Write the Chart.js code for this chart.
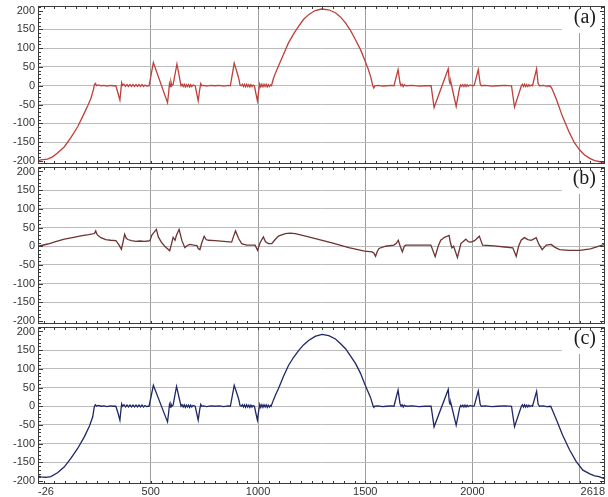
<!DOCTYPE html>
<html>
<head>
<meta charset="utf-8">
<script src="https://cdn.jsdelivr.net/npm/chart.js@4.4.1/dist/chart.umd.min.js"></script>
<style>
  body { margin: 0; background: #fff; }
  #wrap { position: relative; width: 608px; height: 497px; }
  canvas { position: absolute; left: 0; }
</style>
</head>
<body>
<div id="wrap">
  <canvas id="panelA" width="608" height="166" style="top:0"></canvas>
  <canvas id="panelB" width="608" height="160" style="top:166px"></canvas>
  <canvas id="panelC" width="608" height="171" style="top:326px"></canvas>
</div>
<script>
// axis ticks
const xTicks = [-26, 500, 1000, 1500, 2000, 2500, 2618];
const yTicks = [-200, -150, -100, -50, 0, 50, 100, 150, 200];
const panelLabels = ['(a)', '(b)', '(c)'];

// series (a)
const xA = [-26, -13, 18, 42, 65, 97, 128, 159, 182, 206, 221, 232, 237, 242, 247, 256, 268, 282, 296, 310, 324, 337,
  347, 356, 360, 364, 368, 375, 382, 389, 396, 403, 410, 417, 424, 431, 438, 445, 452, 459, 466, 473, 480, 487, 492,
  512, 578, 583, 587, 590, 594, 598, 604, 622, 641, 646, 651, 656, 661, 666, 671, 676, 681, 686, 691, 697, 707,
  721, 728, 733, 738, 746, 760, 780, 800, 820, 840, 860, 871,
  889, 905, 912, 916, 922, 927, 932, 937, 942, 947, 952, 957, 962, 967, 972, 977, 983,
  997, 1004, 1008, 1013, 1018, 1023, 1028, 1033, 1038, 1043, 1048, 1053, 1058, 1063,
  1072, 1083, 1095, 1119, 1142, 1166, 1189, 1212, 1236, 1266, 1297, 1329, 1361, 1384, 1408, 1431, 1454, 1478, 1497, 1512, 1525, 1535,
  1540, 1545, 1560, 1580, 1600, 1620, 1634,
  1653, 1662, 1667, 1672, 1677, 1682, 1690, 1720, 1750, 1780, 1807,
  1821, 1887, 1892, 1896, 1899, 1902, 1924, 1940, 1945, 1950, 1955, 1960, 1965, 1970, 1975, 1980, 1990, 2000, 2008,
  2027, 2036, 2041, 2060, 2090, 2120, 2150, 2182,
  2196, 2228, 2233, 2238, 2243, 2248, 2253, 2258, 2263, 2268, 2274, 2280,
  2299, 2306, 2313, 2330, 2345, 2360,
  2367, 2374, 2392, 2420, 2453, 2476, 2500, 2523, 2547, 2570, 2594, 2618];
const yA = [-200, -197, -195, -189, -179, -162, -137, -109, -82, -53, -33, -11, 3, 6, 0, 2, 0, 1, -1, 1, 0, 0,
  -20, -38, -15, 8, 1, 4, -2, 3, -2, 3, -2, 3, -2, 3, -2, 3, -2, 3, -2, 2, -1, 0, 0,
  62, -45, -20, 5, -2, 10, 0, 3, 58, 0, 4, -2, 4, -3, 3, -2, 3, -3, 3, -2, 2, 0,
  -40, -10, 6, 0, 1, -1, 1, 0, 1, -1, 1, 0,
  60, 30, 15, 2, 0, 4, -2, 4, -3, 4, -2, 3, -3, 3, -2, 2, 0,
  -40, -10, 5, -3, 4, -3, 4, -2, 4, -3, 3, -2, 2, 0,
  20, 36, 52, 84, 114, 138, 158, 176, 189, 200, 204, 202, 194, 183, 167, 147, 123, 96, 69, 47, 25, 0,
  -6, 0, 1, -1, 0, 1, 0,
  43, 8, 0, 4, -2, 3, 0, 1, -1, 0, 0,
  -58, 45, 12, 5, 10, 2, -55, -5, 2, -1, 3, -2, 3, -2, 3, -1, 2, 0, 1,
  43, 5, 0, 1, -1, 0, 1, 0,
  -57, 0, 4, -2, 4, -2, 3, -2, 3, -1, 2, 0,
  45, 6, 0, 1, -1, 0,
  -4, -12, -37, -82, -126, -152, -171, -184, -193, -199, -202, -204];

// series (b)
const xB = [-26, 20, 60, 97, 140, 174, 210, 237, 243, 250, 267, 290, 313, 337, 350, 363, 370, 378, 385, 393, 410, 430, 450, 470, 487,
  496, 505, 526, 535, 549, 565, 588, 596, 604, 613, 620, 632, 645, 659, 670, 682, 700, 715,
  721, 729, 738, 749, 758, 768, 800, 840, 877, 885, 895, 910, 924, 947, 970, 986,
  998, 1010, 1025, 1035, 1049, 1064, 1080, 1095, 1127, 1150, 1174, 1236, 1290, 1345, 1423, 1497, 1532,
  1540, 1548, 1556, 1564, 1595, 1634, 1645, 1654, 1663, 1673, 1682, 1689, 1750, 1806,
  1826, 1840, 1852, 1870, 1891, 1897, 1904, 1912, 1918, 1930, 1946, 1969, 1980, 1993, 2010, 2032, 2047, 2100, 2150, 2188,
  2204, 2215, 2227, 2242, 2258, 2274, 2297, 2310, 2325, 2344, 2367, 2385, 2406, 2450, 2500, 2550, 2594, 2618];
const yB = [0, 6, 13, 19, 24, 28, 31, 34, 41, 31, 23, 18, 16, 15, 5, -8, 10, 32, 22, 18, 15, 13, 14, 13, 14,
  15, 30, 45, 25, 11, 0, -12, 5, 24, 16, 30, 45, 15, -4, 2, 5, 3, 2,
  -6, -9, 10, 27, 18, 16, 15, 13, 11, 25, 41, 20, 7, 3, 3, 3,
  -11, 10, 25, 12, 7, 7, 18, 27, 34, 35, 34, 25, 17, 9, -4, -13, -15,
  -18, -27, -14, -6, 0, 3, 8, 16, 0, -15, 0, 3, 3, 3,
  -28, 0, 16, 24, 29, 10, -4, 0, -10, -30, 7, 19, 12, 11, 15, 27, 3, 1, -2, -4,
  -27, 0, 16, 23, 18, 16, 23, 5, -9, 3, 5, -3, -9, -11, -11, -7, 1, 5];

// series (c)
const xC = [-26, -13, 10, 34, 65, 97, 128, 159, 190, 214, 229, 237, 242, 247, 256, 268, 282, 296, 310, 324, 337,
  347, 356, 360, 364, 368, 375, 382, 389, 396, 403, 410, 417, 424, 431, 438, 445, 452, 459, 466, 473, 480, 487, 492,
  512, 578, 583, 587, 590, 594, 598, 604, 620, 641, 646, 651, 656, 661, 666, 671, 676, 681, 686, 691, 697, 707,
  721, 728, 733, 738, 746, 760, 780, 800, 820, 840, 860, 871,
  889, 905, 912, 916, 922, 927, 932, 937, 942, 947, 952, 957, 962, 967, 972, 977, 983,
  997, 1004, 1008, 1013, 1018, 1023, 1028, 1033, 1038, 1043, 1048, 1053, 1058, 1061,
  1072, 1083, 1095, 1119, 1142, 1166, 1189, 1212, 1236, 1266, 1298, 1330, 1361, 1384, 1408, 1431, 1455, 1478, 1497, 1512, 1525, 1537,
  1540, 1545, 1560, 1580, 1600, 1620, 1634,
  1653, 1662, 1667, 1672, 1677, 1682, 1690, 1720, 1750, 1780, 1807,
  1821, 1887, 1892, 1896, 1899, 1902, 1924, 1940, 1945, 1950, 1955, 1960, 1965, 1970, 1975, 1980, 1990, 2000, 2008,
  2027, 2036, 2041, 2060, 2090, 2120, 2150, 2182,
  2196, 2228, 2233, 2238, 2243, 2248, 2253, 2258, 2263, 2268, 2274, 2280,
  2299, 2306, 2313, 2330, 2345, 2365,
  2374, 2392, 2420, 2453, 2484, 2515, 2547, 2570, 2590, 2608, 2618];
const yC = [-186, -189, -190, -188, -178, -162, -139, -113, -82, -53, -29, 0, 4, 0, 2, 0, 1, -1, 1, 0, 0,
  -18, -37, -14, 6, 0, 4, -2, 3, -2, 3, -2, 3, -2, 3, -2, 3, -2, 3, -2, 2, -1, 0, 0,
  56, -42, -18, 4, -2, 6, 0, 3, 53, 0, 4, -2, 4, -3, 3, -2, 3, -3, 3, -2, 2, 0,
  -37, -9, 5, 0, 1, -1, 1, 0, 1, -1, 1, 0,
  56, 28, 14, 2, 0, 4, -2, 4, -3, 4, -2, 3, -3, 3, -2, 2, 0,
  -37, -9, 5, -3, 4, -3, 4, -2, 4, -3, 3, -2, 2, 0,
  17, 32, 47, 80, 109, 131, 149, 164, 176, 187, 192, 189, 180, 168, 154, 135, 114, 88, 60, 40, 23, 0,
  -2, 0, 1, -1, 0, 1, 0,
  43, 7, 0, 4, -2, 3, 0, 1, -1, 0, 0,
  -55, 45, 11, 5, 9, 2, -51, -5, 2, -1, 3, -2, 3, -2, 3, -1, 2, 0, 1,
  41, 5, 0, 1, -1, 0, 1, 0,
  -55, 0, 4, -2, 4, -2, 3, -2, 3, -1, 2, 0,
  40, 6, 0, 1, -1, 0,
  -12, -37, -77, -117, -148, -171, -181, -186, -188, -192, -195];

const tickFont = { family: '"Liberation Sans", Arial, sans-serif', size: 11 };

/**
 * Frame with ruler ticks and the panel label
 */
const panelFrame = {
    id: 'panelFrame',
    beforeDatasetsDraw(chart, args, opts) {
        const { ctx, chartArea: a } = chart;
        ctx.save();
        ctx.fillStyle = '#fff';
        ctx.fillRect(a.right - 43, a.top + 1, 42, 26);
        ctx.font = '20px "Liberation Serif", "Times New Roman", serif';
        ctx.fillStyle = '#1a1a1a';
        ctx.textAlign = 'right';
        ctx.textBaseline = 'middle';
        ctx.fillText(opts.label, a.right - 9, a.top + 12);
        ctx.restore();
    },
    afterDraw(chart) {
        const { ctx, chartArea: a, scales: { x, y } } = chart;
        ctx.save();
        ctx.strokeStyle = '#3a3a3a';
        ctx.lineWidth = 1;
        ctx.strokeRect(a.left + 0.5, a.top + 0.5, a.right - a.left - 1, a.bottom - a.top - 1);
        ctx.beginPath();
        for (let v = 0; v <= 2600; v += 50) {
            const px = Math.round(x.getPixelForValue(v)) + 0.5;
            ctx.moveTo(px, a.top);
            ctx.lineTo(px, a.top + 3);
            ctx.moveTo(px, a.bottom);
            ctx.lineTo(px, a.bottom - 3);
        }
        for (let v = -200; v <= 210; v += 10) {
            const py = Math.round(y.getPixelForValue(v)) + 0.5;
            const len = v % 50 === 0 ? 5 : 3;
            ctx.moveTo(a.left, py);
            ctx.lineTo(a.left + len, py);
            ctx.moveTo(a.right, py);
            ctx.lineTo(a.right - len, py);
        }
        ctx.stroke();
        ctx.restore();
    }
};

function createPanel(canvasId, xs, ys, color, label, padding, showXLabels) {
    const canvas = document.getElementById(canvasId);
    if (!canvas) return;
    const ctx = canvas.getContext('2d');

    return new Chart(ctx, {
        type: 'line',
        data: {
            datasets: [{
                data: xs.map((x, i) => ({ x: x, y: ys[i] })),
                borderColor: color,
                borderWidth: 1.3,
                pointRadius: 0,
                tension: 0
            }]
        },
        options: {
            responsive: false,
            animation: false,
            events: [],
            layout: { padding: padding },
            plugins: {
                legend: { display: false },
                tooltip: { enabled: false },
                panelFrame: { label: label }
            },
            scales: {
                x: {
                    type: 'linear',
                    min: -26,
                    max: 2618,
                    afterBuildTicks: s => { s.ticks = xTicks.map(v => ({ value: v })); },
                    afterFit: s => {
                        s.height = showXLabels ? 13 : 0;
                        s.paddingLeft = 0;
                        s.paddingRight = 0;
                    },
                    border: { display: false },
                    grid: {
                        drawTicks: false,
                        color: c => (c.tick && (c.tick.value === -26 || c.tick.value === 2618)) ? 'rgba(0,0,0,0)' : '#9c9c9c',
                        lineWidth: 1
                    },
                    ticks: {
                        display: showXLabels,
                        autoSkip: false,
                        maxRotation: 0,
                        align: 'inner',
                        padding: 1,
                        color: '#333',
                        font: tickFont,
                        callback: v => v === 2500 ? '' : String(v)
                    }
                },
                y: {
                    min: -208,
                    max: 212,
                    afterBuildTicks: s => { s.ticks = yTicks.map(v => ({ value: v })); },
                    afterFit: s => {
                        s.width = 38;
                        s.paddingTop = 0;
                        s.paddingBottom = 0;
                    },
                    border: { display: false },
                    grid: {
                        drawTicks: false,
                        color: c => (c.tick && Math.abs(c.tick.value) === 200) ? 'rgba(0,0,0,0)' : '#bcbcbc',
                        lineWidth: 1
                    },
                    ticks: {
                        padding: 3,
                        color: '#333',
                        font: tickFont
                    }
                }
            }
        },
        plugins: [panelFrame]
    });
}

createPanel('panelA', xA, yA, '#bf3f3a', panelLabels[0], { top: 6, right: 3, bottom: 2, left: 0 }, false);
createPanel('panelB', xB, yB, '#6e3434', panelLabels[1], { top: 1, right: 3, bottom: 2, left: 0 }, false);
createPanel('panelC', xC, yC, '#1f2766', panelLabels[2], { top: 1, right: 3, bottom: 0, left: 0 }, true);
</script>
</body>
</html>
